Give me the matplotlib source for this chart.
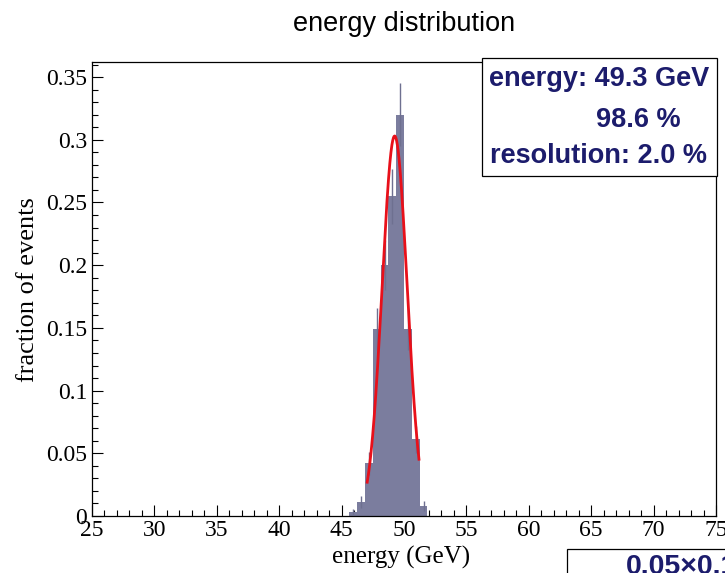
import numpy as np
import matplotlib.pyplot as plt
from matplotlib.patches import Rectangle
from matplotlib.ticker import MultipleLocator

# Histogram content: fraction of events per bin (bin width 0.625 GeV)
bin_edges = np.arange(25.0, 75.0 + 0.001, 0.625)
bin_centers = [45.9375, 46.5625, 47.1875, 47.8125, 48.4375,
               49.0625, 49.6875, 50.3125, 50.9375, 51.5625]
fractions = [0.003, 0.011, 0.042, 0.149, 0.200,
             0.255, 0.320, 0.149, 0.061, 0.008]
frac_errors = [0.0024, 0.0046, 0.009, 0.017, 0.020,
               0.022, 0.025, 0.017, 0.011, 0.004]

# Gaussian fit drawn on top
fit_amp, fit_mean, fit_sigma = 0.303, 49.25, 1.0
fit_lo, fit_hi = 47.05, 51.2

x_ticks = [25, 30, 35, 40, 45, 50, 55, 60, 65, 70, 75]
y_ticks = [0, 0.05, 0.1, 0.15, 0.2, 0.25, 0.3, 0.35]
y_ticklabels = ['0', '0.05', '0.1', '0.15', '0.2', '0.25', '0.3', '0.35']

stats_lines = ['energy: 49.3 GeV', '98.6 %', 'resolution: 2.0 %']
corner_text = '0.05\u00d70.15'

W, H = 725, 573
SERIF = 'Liberation Serif'
SANS = 'Liberation Sans'
NAVY = '#1c1c6c'


def fx(px):
    return px / W


def fy(py):
    return 1 - py / H


fig = plt.figure(figsize=(W / 100, H / 100), dpi=100)
ax = fig.add_axes([fx(92), fy(516), (716 - 92) / W, (516 - 62) / H])

# histogram + errors
ax.hist(bin_centers, bins=bin_edges, weights=fractions,
        histtype='stepfilled', color='#7b7d9e', linewidth=0, zorder=2)
ax.errorbar(bin_centers, fractions, yerr=frac_errors, fmt='none',
            ecolor='#6e7090', elinewidth=1.0, zorder=3)

# fit curve
xf = np.linspace(fit_lo, fit_hi, 200)
yf = fit_amp * np.exp(-0.5 * ((xf - fit_mean) / fit_sigma) ** 2)
ax.plot(xf, yf, color='#e8101a', linewidth=2.0, zorder=4)

ax.set_xlim(25, 75)
ax.set_ylim(0, 0.362)
ax.set_xticks(x_ticks)
ax.set_xticklabels([str(t) for t in x_ticks])
ax.set_yticks(y_ticks)
ax.set_yticklabels(y_ticklabels)
ax.xaxis.set_minor_locator(MultipleLocator(1))
ax.yaxis.set_minor_locator(MultipleLocator(0.01))
ax.tick_params(which='both', direction='in', top=False, right=False,
               width=0.8, colors='black')
ax.tick_params(which='major', length=8)
ax.tick_params(which='minor', length=4.5)
ax.tick_params(axis='x', which='major', pad=3)
ax.tick_params(axis='y', which='major', pad=3.5)
for lab in ax.get_xticklabels() + ax.get_yticklabels():
    lab.set_fontfamily(SERIF)
    lab.set_fontsize(17)
for sp in ax.spines.values():
    sp.set_linewidth(0.9)

# titles / labels
fig.text(fx(404.5), fy(31), 'energy distribution', family=SANS,
         fontsize=19.5, ha='center', va='baseline')
fig.text(fx(401), fy(564), 'energy (GeV)', family=SERIF,
         fontsize=18, ha='center', va='baseline')
fig.text(fx(28), fy(290), 'fraction of events', family=SERIF,
         fontsize=19, ha='center', va='center', rotation=90)

# stats box
fig.add_artist(Rectangle((fx(482), fy(176)), (717 - 482) / W, (176 - 58) / H,
                         transform=fig.transFigure, facecolor='white',
                         edgecolor='black', linewidth=0.9, zorder=5))
box_x = [599, 638, 599]
box_y = [86, 127, 163]
for txt, bx, by in zip(stats_lines, box_x, box_y):
    fig.text(fx(bx), fy(by), txt, family=SANS, fontweight='bold',
             fontsize=19.5, color=NAVY, ha='center', va='baseline', zorder=6)

# box cut off at the bottom right
fig.add_artist(Rectangle((fx(567), fy(600)), 200 / W, (600 - 549) / H,
                         transform=fig.transFigure, facecolor='white',
                         edgecolor='black', linewidth=0.9, zorder=5))
fig.text(fx(626), fy(574), corner_text, family=SANS, fontweight='bold',
         fontsize=20.5, color=NAVY, ha='left', va='baseline', zorder=6)

fig.savefig('out.png', dpi=100)
